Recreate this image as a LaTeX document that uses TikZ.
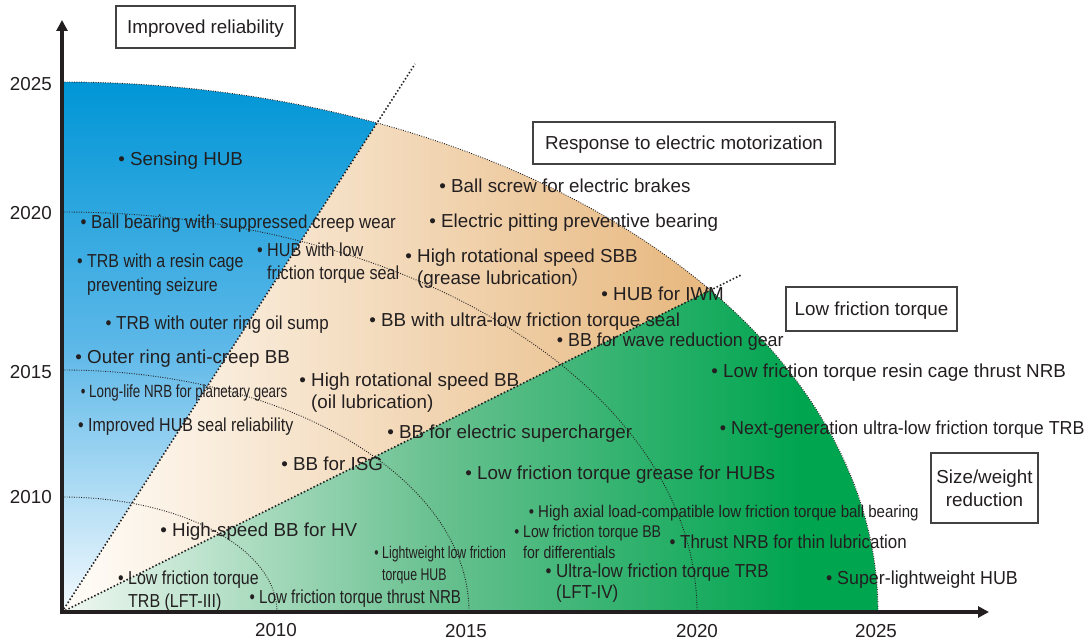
\documentclass[tikz,border=0pt]{standalone}
\usepackage{fontspec}
\setmainfont{Liberation Sans}
\newfontfamily\cjkfont{Noto Sans CJK JP}
\usepackage{graphicx}
\usetikzlibrary{arrows.meta}

\definecolor{ink}{HTML}{231F20}
\definecolor{blueTop}{HTML}{0096D6}
\definecolor{blueMid}{HTML}{5DB8E8}
\definecolor{blueLow}{HTML}{F4FAFE}
\definecolor{tanLeft}{HTML}{FFFDF9}
\definecolor{tanRight}{HTML}{E6B478}
\definecolor{greenLeft}{HTML}{F0F8F2}
\definecolor{greenMid}{HTML}{6AC191}
\definecolor{greenRight}{HTML}{00A550}

% bulleted item: name, text start x, baseline y, x-stretch, y-stretch, lines
\newcommand\bitem[6]{%
  \node[item] (#1) at ({#2-11.8*#4},-#3)
    {\scalebox{#4}[#5]{\begin{tabular}[t]{@{}l@{}}•\ #6\end{tabular}}};}

\begin{document}
\begin{tikzpicture}[x=1pt,y=1pt,
  font=\fontsize{18.8}{23}\selectfont,
  item/.style={anchor=base west, inner sep=0pt, text=ink},
  yearlab/.style={inner sep=0pt, text=ink},
  labelbox/.style={draw=ink!85, line width=1.1pt, fill=white, inner sep=0pt,
                   text=ink, align=center, text height=13.5pt, text depth=0pt},
  radial/.style={draw=ink, line width=1.6pt, dash pattern=on 1.5pt off 2.1pt},
  yeararc/.style={draw=ink, line width=0.9pt, dash pattern=on 0.9pt off 1.5pt},
  axis/.style={draw=ink, line width=3.5pt, line join=miter,
               {Triangle[length=11pt,width=11pt]}-{Triangle[length=11pt,width=11pt]}}]

\useasboundingbox (0,0) rectangle (1089,-644);

\coordinate (O) at (62,-612);
\coordinate (ytip) at (62,-20);
\coordinate (xtip) at (989,-612);
\coordinate (r1) at (415,-64);
\coordinate (r2) at (741,-275);

% blue sector: reliability
\begin{scope}
  \clip (O) -- (62,-82) arc[start angle=90, end angle=67.3, x radius=816pt, y radius=530pt] -- cycle;
  \shade[top color=blueTop, bottom color=blueLow, middle color=blueMid] (62,-612) rectangle (380,-82);
\end{scope}
% tan sector: electric motorization
\begin{scope}
  \clip (O) -- (376.9,-123.1) arc[start angle=67.3, end angle=37.38, x radius=816pt, y radius=530pt] -- cycle;
  \shade[left color=tanLeft, right color=tanRight] (62,-612) rectangle (741,-120);
\end{scope}
% green sector: low friction / size reduction
\begin{scope}
  \clip (O) -- (710.2,-290.1) arc[start angle=37.38, end angle=0, x radius=816pt, y radius=530pt] -- cycle;
  \shade[left color=greenLeft, right color=greenRight, middle color=greenMid] (62,-612) rectangle (800,-288);
  \fill[greenRight] (799,-612) rectangle (880,-288);
\end{scope}

% year arcs
\draw[yeararc] (62,-497) arc[start angle=90, end angle=0, x radius=215pt, y radius=115pt];
\draw[yeararc] (62,-370) arc[start angle=90, end angle=0, x radius=407pt, y radius=242pt];
\draw[yeararc] (62,-212) arc[start angle=90, end angle=0, x radius=635pt, y radius=400pt];
\draw[yeararc] (62,-82) arc[start angle=90, end angle=0, x radius=816pt, y radius=530pt];

% sector borders
\draw[radial] (O) -- (r1);
\draw[radial] (O) -- (r2);

% axes
\draw[axis] (ytip) -- (O) -- (xtip);

% year labels
\node[yearlab, anchor=base east] (y2025) at (52,-91) {2025};
\node[yearlab, anchor=base east] (y2020) at (52,-220) {2020};
\node[yearlab, anchor=base east] (y2015) at (52,-378) {2015};
\node[yearlab, anchor=base east] (y2010) at (52,-503) {2010};
\node[yearlab, anchor=base] (x2010) at (276,-636) {2010};
\node[yearlab, anchor=base] (x2015) at (466,-637) {2015};
\node[yearlab, anchor=base] (x2020) at (697,-637) {2020};
\node[yearlab, anchor=base] (x2025) at (876,-637) {2025};

% items
\bitem{sensing}{130}{166}{1}{1}{Sensing HUB}
\bitem{creep}{91}{229}{0.9}{1}{Ball bearing with suppressed creep wear}
\bitem{resincage}{87}{268}{0.85}{1}{TRB with a resin cage\\[1pt]\phantom{•\ }preventing seizure}
\bitem{hubseal}{267}{257}{0.86}{1}{HUB with low\\\phantom{•\ }friction torque seal}
\bitem{oilsump}{116}{329}{0.9}{1}{TRB with outer ring oil sump}
\bitem{anticreep}{87}{363}{1}{1}{Outer ring anti-creep BB}
\bitem{planetary}{89}{397}{0.71}{0.94}{Long-life NRB for planetary gears}
\bitem{sealrel}{88}{431}{0.85}{1}{Improved HUB seal reliability}
\bitem{hsbb}{311}{386}{1}{1}{High rotational speed BB\\[-1pt]\phantom{•\ }(oil lubrication)}
\bitem{isg}{293}{470}{1}{1}{BB for ISG}
\bitem{hv}{172}{536}{1}{1}{High-speed BB for HV}
\bitem{lft3}{128}{584}{0.85}{1}{Low friction torque\\\phantom{•\ }TRB (LFT-III)}
\bitem{thrustnrb}{259}{603}{0.805}{1}{Low friction torque thrust NRB}
\bitem{lwhub}{382}{558}{0.655}{0.9}{Lightweight low friction\\[2.5pt]\phantom{•\ }torque HUB}
\bitem{axial}{538}{517}{0.8}{0.9}{High axial load-compatible low friction torque ball bearing}
\bitem{diff}{523}{537}{0.75}{0.9}{Low friction torque BB\\[1.4pt]\phantom{•\ }for differentials}
\bitem{thinlub}{680}{548}{0.9}{1}{Thrust NRB for thin lubrication}
\bitem{lft4}{556}{577}{0.9}{1}{Ultra-low friction torque TRB\\[-1.5pt]\phantom{•\ }(LFT-IV)}
\bitem{slhub}{837}{584}{0.95}{1}{Super-lightweight HUB}
\bitem{nextgen}{731}{434}{0.95}{1}{Next-generation ultra-low friction torque TRB}
\bitem{resinthrust}{723}{377}{1}{1}{Low friction torque resin cage thrust NRB}
\bitem{supercharger}{399}{438}{1}{1}{BB for electric supercharger}
\bitem{grease}{477}{479}{1}{1}{Low friction torque grease for HUBs}
\bitem{wave}{568}{346}{0.95}{1}{BB for wave reduction gear}
\bitem{ballscrew}{451}{193}{1}{1}{Ball screw for electric brakes}
\bitem{pitting}{441}{228}{1}{1}{Electric pitting preventive bearing}
\bitem{sbb}{417}{263}{1}{1}{High rotational speed SBB\\[-2pt]\phantom{•\ }(grease lubrication{\cjkfont ）}}
\bitem{iwm}{613}{300}{1}{1}{HUB for IWM}
\bitem{ultraseal}{381}{326}{1}{1}{BB with ultra-low friction torque seal}

% category boxes
\node[labelbox, minimum width=179pt, minimum height=42pt] (reliability) at (205.5,-27) {Improved reliability};
\node[labelbox, minimum width=302pt, minimum height=42pt] (motor) at (684,-143) {Response to electric motorization};
\node[labelbox, minimum width=171pt, minimum height=44pt] (lowfric) at (871.5,-309) {Low friction torque};
\node[labelbox, minimum width=107pt, minimum height=70pt, text height=36.5pt] (sizewt) at (984.5,-488) {Size/weight\\reduction};

\end{tikzpicture}
\end{document}
